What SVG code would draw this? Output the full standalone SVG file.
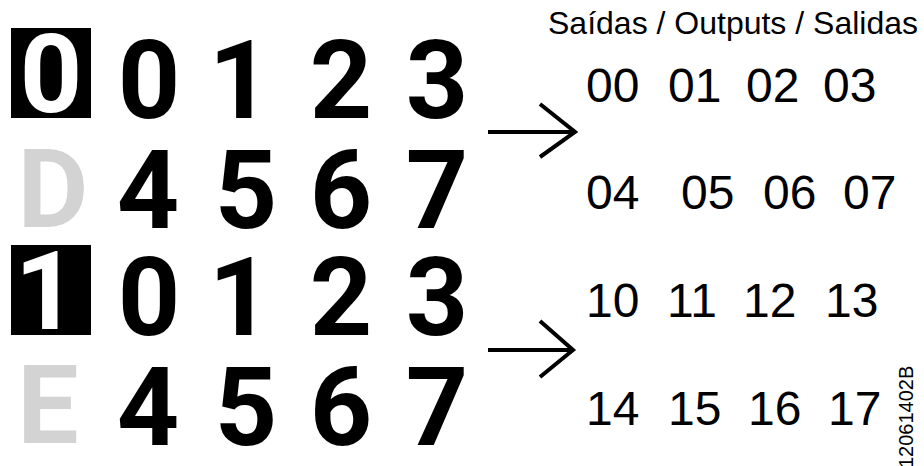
<svg xmlns="http://www.w3.org/2000/svg" width="924" height="466" viewBox="0 0 924 466">
<style>
.big{font-family:Roboto,"Liberation Sans",Arial,sans-serif;font-weight:bold;font-size:109px;fill:#000;text-anchor:middle}
.inv{fill:#fff}
.gray{fill:#d3d3d3}
.out{font-family:"Liberation Sans",Arial,sans-serif;font-size:48px;fill:#000}
.title{font-family:"Liberation Sans",Arial,sans-serif;font-size:32px;fill:#000}
.code{font-family:"Liberation Sans",Arial,sans-serif;font-size:20px;fill:#000}
.arrow{fill:none;stroke:#000;stroke-width:4}
</style>
<rect width="924" height="466" fill="#fff"/>
<g id="label-0">
<rect x="11" y="28" width="80" height="90" fill="#000"/>
<text class="big inv" x="51" y="112">0</text>
</g>
<g id="label-D"><text class="big gray" x="53" y="227">D</text></g>
<g id="label-1">
<rect x="11" y="245" width="80" height="90" fill="#000"/>
<text class="big inv" x="46" y="329">1</text>
</g>
<g id="label-E"><text class="big gray" x="48" y="443">E</text></g>
<g id="row1">
<text class="big" x="149" y="118">0</text><text class="big" x="240" y="118">1</text><text class="big" x="341" y="118">2</text><text class="big" x="437" y="118">3</text>
</g>
<g id="row2">
<text class="big" x="148" y="228">4</text><text class="big" x="246" y="228">5</text><text class="big" x="341" y="228">6</text><text class="big" x="437" y="228">7</text>
</g>
<g id="row3">
<text class="big" x="149" y="335">0</text><text class="big" x="240" y="335">1</text><text class="big" x="341" y="335">2</text><text class="big" x="437" y="335">3</text>
</g>
<g id="row4">
<text class="big" x="148" y="445">4</text><text class="big" x="246" y="445">5</text><text class="big" x="341" y="445">6</text><text class="big" x="437" y="445">7</text>
</g>
<g id="connectors">
<line class="arrow" x1="488" y1="132" x2="574" y2="132"/>
<polyline class="arrow" points="540,104 575,132 540,157"/>
<line class="arrow" x1="488" y1="350" x2="572" y2="350"/>
<polyline class="arrow" points="540,321 573,350 540,377"/>
</g>
<g id="title"><text class="title" x="548" y="34">Saídas / Outputs / Salidas</text></g>
<g id="outputs-0">
<text class="out" x="586" y="102">00</text><text class="out" x="668" y="102">01</text><text class="out" x="746" y="102">02</text><text class="out" x="823" y="102">03</text>
<text class="out" x="586" y="209">04</text><text class="out" x="681" y="209">05</text><text class="out" x="763" y="209">06</text><text class="out" x="843" y="209">07</text>
</g>
<g id="outputs-1">
<text class="out" x="586" y="317">10</text><text class="out" x="667" y="317">11</text><text class="out" x="743" y="317">12</text><text class="out" x="825" y="317">13</text>
<text class="out" x="586" y="425">14</text><text class="out" x="668" y="425">15</text><text class="out" x="748" y="425">16</text><text class="out" x="828" y="425">17</text>
</g>
<g id="code"><text class="code" transform="translate(913,468) rotate(-90)">12061402B</text></g>
</svg>
